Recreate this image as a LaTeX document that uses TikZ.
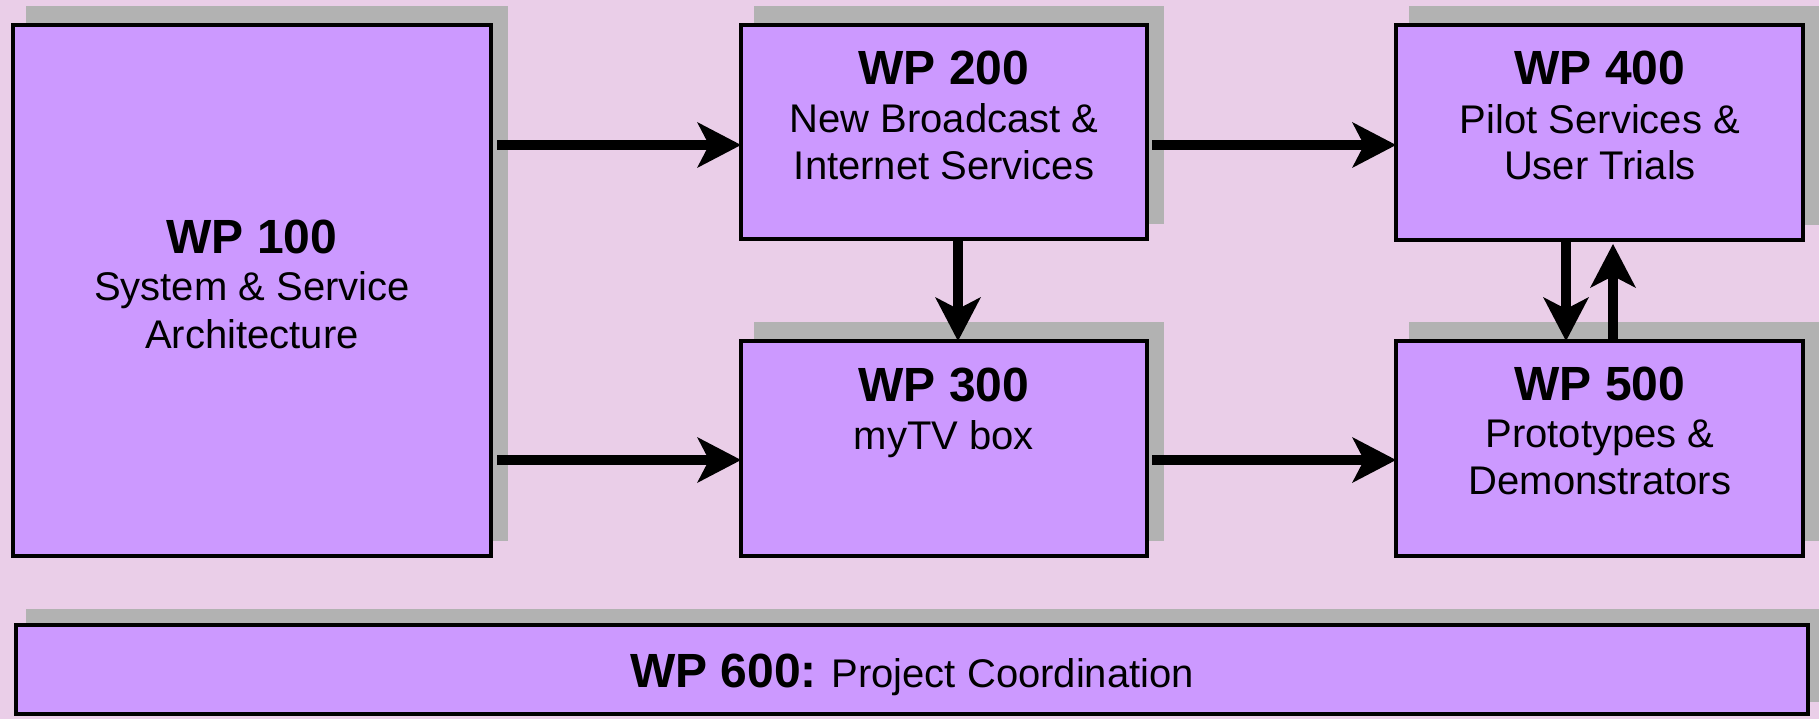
\documentclass[tikz,border=0pt]{standalone}
\usepackage{fontspec}
\setmainfont{Liberation Sans}
\usetikzlibrary{arrows.meta,calc}
\definecolor{bgc}{RGB}{234,206,232}
\definecolor{boxc}{RGB}{204,153,255}
\definecolor{shc}{RGB}{178,178,178}
\begin{document}
\begin{tikzpicture}[x=1pt,y=-1pt,
  wpbox/.style={draw=black, fill=boxc, line width=3.5pt, inner sep=0pt, outer sep=0pt},
  shadowbox/.style={fill=shc},
  arr/.style={line width=10pt, -{Stealth[length=44pt,width=46pt,inset=12pt,line width=0pt]}},
  head/.style={anchor=base, inner sep=0pt, font=\fontsize{48}{56}\selectfont\bfseries},
  sub/.style={anchor=base, inner sep=0pt, font=\fontsize{40}{48}\selectfont}]
\fill[bgc] (0,0) rectangle (1819,719);
\useasboundingbox (0,0) rectangle (1819,719);

% shadows
\fill[shadowbox] (26,6) rectangle (508,541);
\fill[shadowbox] (754,6) rectangle (1164,224);
\fill[shadowbox] (754,322) rectangle (1164,541);
\fill[shadowbox] (1409,6) rectangle (1820,225);
\fill[shadowbox] (1409,322) rectangle (1820,541);
\fill[shadowbox] (26,609) rectangle (1822,702);

% boxes
\node[wpbox, minimum width=478pt, minimum height=531pt] (wp100) at (252,290.5) {};
\node[wpbox, minimum width=406pt, minimum height=214pt] (wp200) at (944,132) {};
\node[wpbox, minimum width=406pt, minimum height=215pt] (wp300) at (944,448.5) {};
\node[wpbox, minimum width=407pt, minimum height=215pt] (wp400) at (1599.5,132.5) {};
\node[wpbox, minimum width=407pt, minimum height=215pt] (wp500) at (1599.5,448.5) {};
\node[wpbox, minimum width=1792pt, minimum height=89pt] (wp600) at (912,669.5) {};

% texts
\node[head] (t100a) at (252,254) {WP 100};
\node[sub]  (t100b) at (252,300) {System \& Service};
\node[sub]  (t100c) at (252,348) {Architecture};

\node[head] (t200a) at (944,85) {WP 200};
\node[sub]  (t200b) at (944,133) {New Broadcast \&};
\node[sub]  (t200c) at (944,180) {Internet Services};

\node[head] (t300a) at (944,401) {WP 300};
\node[sub]  (t300b) at (944,449) {myTV box};

\node[head] (t400a) at (1600,85) {WP 400};
\node[sub]  (t400b) at (1600,134) {Pilot Services \&};
\node[sub]  (t400c) at (1600,180) {User Trials};

\node[head] (t500a) at (1600,400) {WP 500};
\node[sub]  (t500b) at (1600,447) {Prototypes \&};
\node[sub]  (t500c) at (1600,494) {Demonstrators};

\node[anchor=base, inner sep=0pt] (t600) at (912,687)
  {\fontsize{48}{56}\selectfont\bfseries WP 600:\mdseries\fontsize{40}{48}\selectfont{} Project Coordination};

% arrows
\draw[arr] ($(wp100.east |- wp200.west)+(6,13)$) -- ($(wp200.west)+(0,13)$);
\draw[arr] ($(wp100.east |- wp300.west)+(6,11.5)$) -- ($(wp300.west)+(0,11.5)$);
\draw[arr] ($(wp200.east)+(5,13)$) -- ($(wp400.west)+(0,12.5)$);
\draw[arr] ($(wp300.east)+(5,11.5)$) -- ($(wp500.west)+(0,11.5)$);
\draw[arr] ($(wp200.south)+(14,0)$) -- ($(wp300.north)+(14,0)$);
\draw[arr] ($(wp400.south)+(-33.5,0)$) -- ($(wp500.north)+(-33.5,0)$);
\draw[arr] ($(wp500.north)+(13.5,0)$) -- ($(wp400.south)+(13.5,4)$);
\end{tikzpicture}
\end{document}
